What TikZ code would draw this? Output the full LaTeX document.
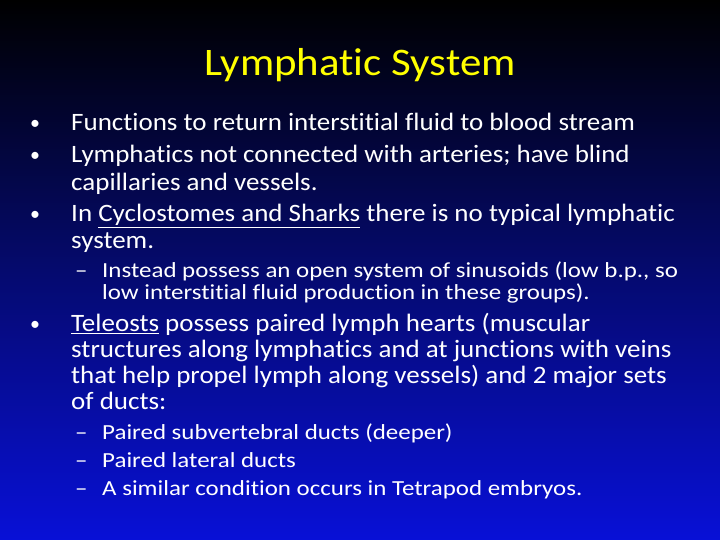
\documentclass[tikz,border=0pt]{standalone}
\usepackage{fontspec}
\setmainfont[Ligatures=NoCommon]{Carlito}
\newfontfamily\bodyf[Ligatures=NoCommon,FakeStretch=1.08]{Carlito}
\newfontfamily\subf[Ligatures=NoCommon,FakeStretch=1.16]{Carlito}
\newfontfamily\titf[Ligatures=NoCommon,FakeStretch=1.1]{Carlito}
\begin{document}
\begin{tikzpicture}[x=1pt,y=1pt,
  body/.style={anchor=base west,inner sep=0pt,text=white,font=\bodyf\fontsize{25}{28}\selectfont},
  sub/.style={anchor=base west,inner sep=0pt,text=white,font=\subf\fontsize{21.5}{23}\selectfont},
  dot/.style={anchor=base west,inner sep=0pt,text=white,font=\fontsize{20}{20}\selectfont}]
\shade[top color=black,bottom color={rgb,255:red,8;green,16;blue,215},middle color={rgb,255:red,5;green,10;blue,110}] (0,0) rectangle (720,540);
\useasboundingbox (0,0) rectangle (720,540);
\node[anchor=center,text={rgb,255:red,255;green,255;blue,0},font=\titf\fontsize{39}{42}\selectfont] (title) at (360,475) {Lymphatic System};
% bullets
\foreach \y/\n in {409/b1,377/b2,318/b3,208/b4}{\node[dot] (\n) at (30,\y+1) {•};}
\foreach \y/\n in {262/s1,100/s2,72/s3,44/s4}{\node[sub] (\n) at (75,\y) {–};}
\node[body] (l1) at (71,409) {Functions to return interstitial fluid to blood stream};
\node[body] (l2) at (71,377) {Lymphatics not connected with arteries; have blind};
\node[body] (l3) at (71,349) {capillaries and vessels.};
\node[body] (l4) at (71,318) {In \underline{Cyclostomes and Sharks} there is no typical lymphatic};
\node[body] (l5) at (71,291) {system.};
\node[sub] (l6) at (102,262) {Instead possess an open system of sinusoids (low b.p., so};
\node[sub] (l7) at (102,240) {low interstitial fluid production in these groups).};
\node[body] (l8) at (71,208) {\underline{Teleosts} possess paired lymph hearts (muscular};
\node[body] (l9) at (71,182) {structures along lymphatics and at junctions with veins};
\node[body] (l10) at (71,156) {that help propel lymph along vessels) and 2 major sets};
\node[body] (l11) at (71,130) {of ducts:};
\node[sub] (l12) at (102,100) {Paired subvertebral ducts (deeper)};
\node[sub] (l13) at (102,72) {Paired lateral ducts};
\node[sub] (l14) at (102,44) {A similar condition occurs in Tetrapod embryos.};
\end{tikzpicture}
\end{document}
